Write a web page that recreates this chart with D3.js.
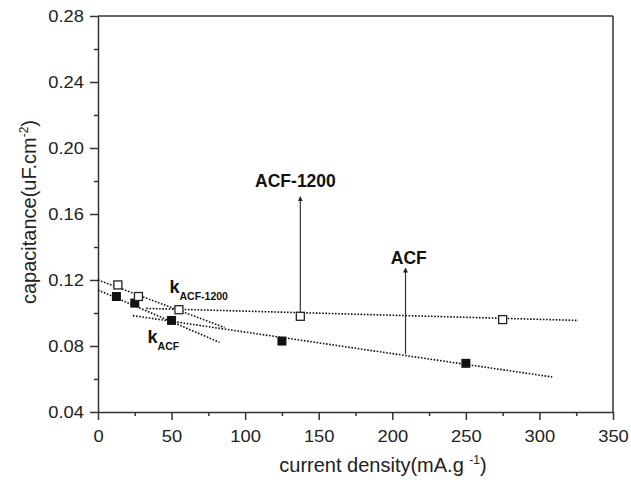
<!DOCTYPE html>
<html>
<head>
<meta charset="utf-8">
<script src="https://d3js.org/d3.v7.min.js"></script>
<style>
  body { margin: 0; background: #fff; font-family: Arial, "Liberation Sans", sans-serif; }
  .axis text { font-size: 17px; fill: #222; font-family: Arial, "Liberation Sans", sans-serif; }
  .axis path, .axis line { stroke: #333; stroke-width: 1.5; }
  .fit { fill: none; stroke: #111; stroke-width: 1.6; stroke-dasharray: 1.6,1.6; }
  .note { font-weight: bold; fill: #111; }
</style>
</head>
<body>
<div id="viz"></div>
<script>
// data
const acfX = [12.5, 25, 50, 125, 250];
const acfY = [0.110, 0.106, 0.0955, 0.083, 0.0695];
const acf1200X = [13.5, 27.5, 55, 137.5, 275];
const acf1200Y = [0.117, 0.110, 0.102, 0.098, 0.096];

// dotted fit lines: [x0, y0, x1, y1]
const kAcf1200Line = [0, 0.1200, 86, 0.0912];
const kAcfLine = [0, 0.1139, 82.6, 0.0822];
const acf1200Line = [32.8, 0.1028, 326.4, 0.0955];
const acfLine = [23.7, 0.0984, 308.7, 0.0612];

// arrows: [x, yFrom, yTo]
const acf1200Arrow = [137.5, 0.1003, 0.1705];
const acfArrow = [209, 0.0752, 0.1272];

const xTicks = [0, 50, 100, 150, 200, 250, 300, 350];
const xMinor = [25, 75, 125, 175, 225, 275, 325];
const yTicks = [0.04, 0.08, 0.12, 0.16, 0.20, 0.24, 0.28];
const yMinor = [0.06, 0.10, 0.14, 0.18, 0.22, 0.26];

const margin = {top: 16, right: 18, bottom: 72, left: 98},
    width = 631 - margin.left - margin.right,
    height = 484 - margin.top - margin.bottom;

const root = d3.select("#viz").append("svg")
    .attr("width", 631).attr("height", 484);
const svg = root.append("g")
    .attr("transform", `translate(${margin.left},${margin.top})`);

const x = d3.scaleLinear().domain([0, 350]).range([0, width]);
const y = d3.scaleLinear().domain([0.04, 0.28]).range([height, 0]);

// frame top / right
svg.append("line").attr("x1", 0).attr("x2", width).attr("y1", 0).attr("y2", 0)
  .attr("stroke", "#333").attr("stroke-width", 1.5);
svg.append("line").attr("x1", width).attr("x2", width).attr("y1", 0).attr("y2", height)
  .attr("stroke", "#333").attr("stroke-width", 1.5);

// X axis
svg.append("g").attr("class", "axis")
  .attr("transform", `translate(0,${height})`)
  .call(d3.axisBottom(x).tickValues(xTicks).tickSize(8).tickSizeOuter(0).tickPadding(10))
  .selectAll("text").attr("transform", "scale(1.08,1)");
svg.append("g").attr("class", "axis")
  .attr("transform", `translate(0,${height})`)
  .call(d3.axisBottom(x).tickValues(xMinor).tickSize(4).tickFormat(""))
  .select(".domain").remove();

// Y axis
svg.append("g").attr("class", "axis")
  .call(d3.axisLeft(y).tickValues(yTicks).tickSize(8).tickSizeOuter(0).tickPadding(5)
    .tickFormat(d3.format(".2f")))
  .selectAll("text").attr("transform", "scale(1.08,1)");
svg.append("g").attr("class", "axis")
  .call(d3.axisLeft(y).tickValues(yMinor).tickSize(4).tickFormat(""))
  .select(".domain").remove();

// axis titles
const xt = root.append("text")
  .attr("x", 383).attr("y", 472)
  .attr("text-anchor", "middle")
  .style("font-size", "20px").style("fill", "#222");
xt.append("tspan").text("current density(mA.g ");
xt.append("tspan").attr("dy", -8).style("font-size", "12px").text("-1");
xt.append("tspan").attr("dy", 8).text(")");

const yt = root.append("text")
  .attr("transform", "translate(36,212) rotate(-90)")
  .attr("text-anchor", "middle")
  .style("font-size", "20px").style("fill", "#222");
yt.append("tspan").text("capacitance(uF.cm");
yt.append("tspan").attr("dy", -8).style("font-size", "12px").text("-2");
yt.append("tspan").attr("dy", 8).text(")");

// dotted lines
[kAcf1200Line, kAcfLine, acf1200Line, acfLine].forEach(l => {
  svg.append("line").attr("class", "fit")
    .attr("x1", x(l[0])).attr("y1", y(l[1]))
    .attr("x2", x(l[2])).attr("y2", y(l[3]));
});

// markers
const sqF = 9, sqO = 8;
svg.selectAll(".acf").data(acfX).enter().append("rect")
  .attr("class", "acf")
  .attr("x", (d) => x(d) - sqF / 2)
  .attr("y", (d, i) => y(acfY[i]) - sqF / 2)
  .attr("width", sqF).attr("height", sqF)
  .attr("fill", "#111");
svg.selectAll(".acf1200").data(acf1200X).enter().append("rect")
  .attr("class", "acf1200")
  .attr("x", (d) => x(d) - sqO / 2)
  .attr("y", (d, i) => y(acf1200Y[i]) - sqO / 2)
  .attr("width", sqO).attr("height", sqO)
  .attr("fill", "#fff").attr("stroke", "#222").attr("stroke-width", 1.3);

// arrows
root.append("defs").append("marker")
  .attr("id", "head").attr("viewBox", "0 0 10 10")
  .attr("refX", 9).attr("refY", 5)
  .attr("markerWidth", 5).attr("markerHeight", 7)
  .attr("markerUnits", "userSpaceOnUse")
  .attr("orient", "auto")
  .append("path").attr("d", "M0,0L10,5L0,10z").attr("fill", "#222");

[acf1200Arrow, acfArrow].forEach(a => {
  svg.append("line")
    .attr("x1", x(a[0])).attr("x2", x(a[0]))
    .attr("y1", y(a[1])).attr("y2", y(a[2]))
    .attr("stroke", "#333").attr("stroke-width", 1.2)
    .attr("marker-end", "url(#head)");
});

// labels
svg.append("text").attr("class", "note")
  .attr("x", x(134.2)).attr("y", y(0.1766))
  .attr("text-anchor", "middle").style("font-size", "17.5px")
  .text("ACF-1200");
svg.append("text").attr("class", "note")
  .attr("x", x(211.2)).attr("y", y(0.1297))
  .attr("text-anchor", "middle").style("font-size", "17.5px")
  .text("ACF");

function kLabel(xv, yv, sub) {
  const t = svg.append("text").attr("class", "note")
    .attr("x", x(xv)).attr("y", y(yv)).style("font-size", "18px");
  t.append("tspan").text("k");
  t.append("tspan").attr("dy", 7).style("font-size", "10.5px").text(sub);
}
kLabel(48.6, 0.1119, "ACF-1200");
kLabel(33.7, 0.0816, "ACF");
</script>
</body>
</html>
